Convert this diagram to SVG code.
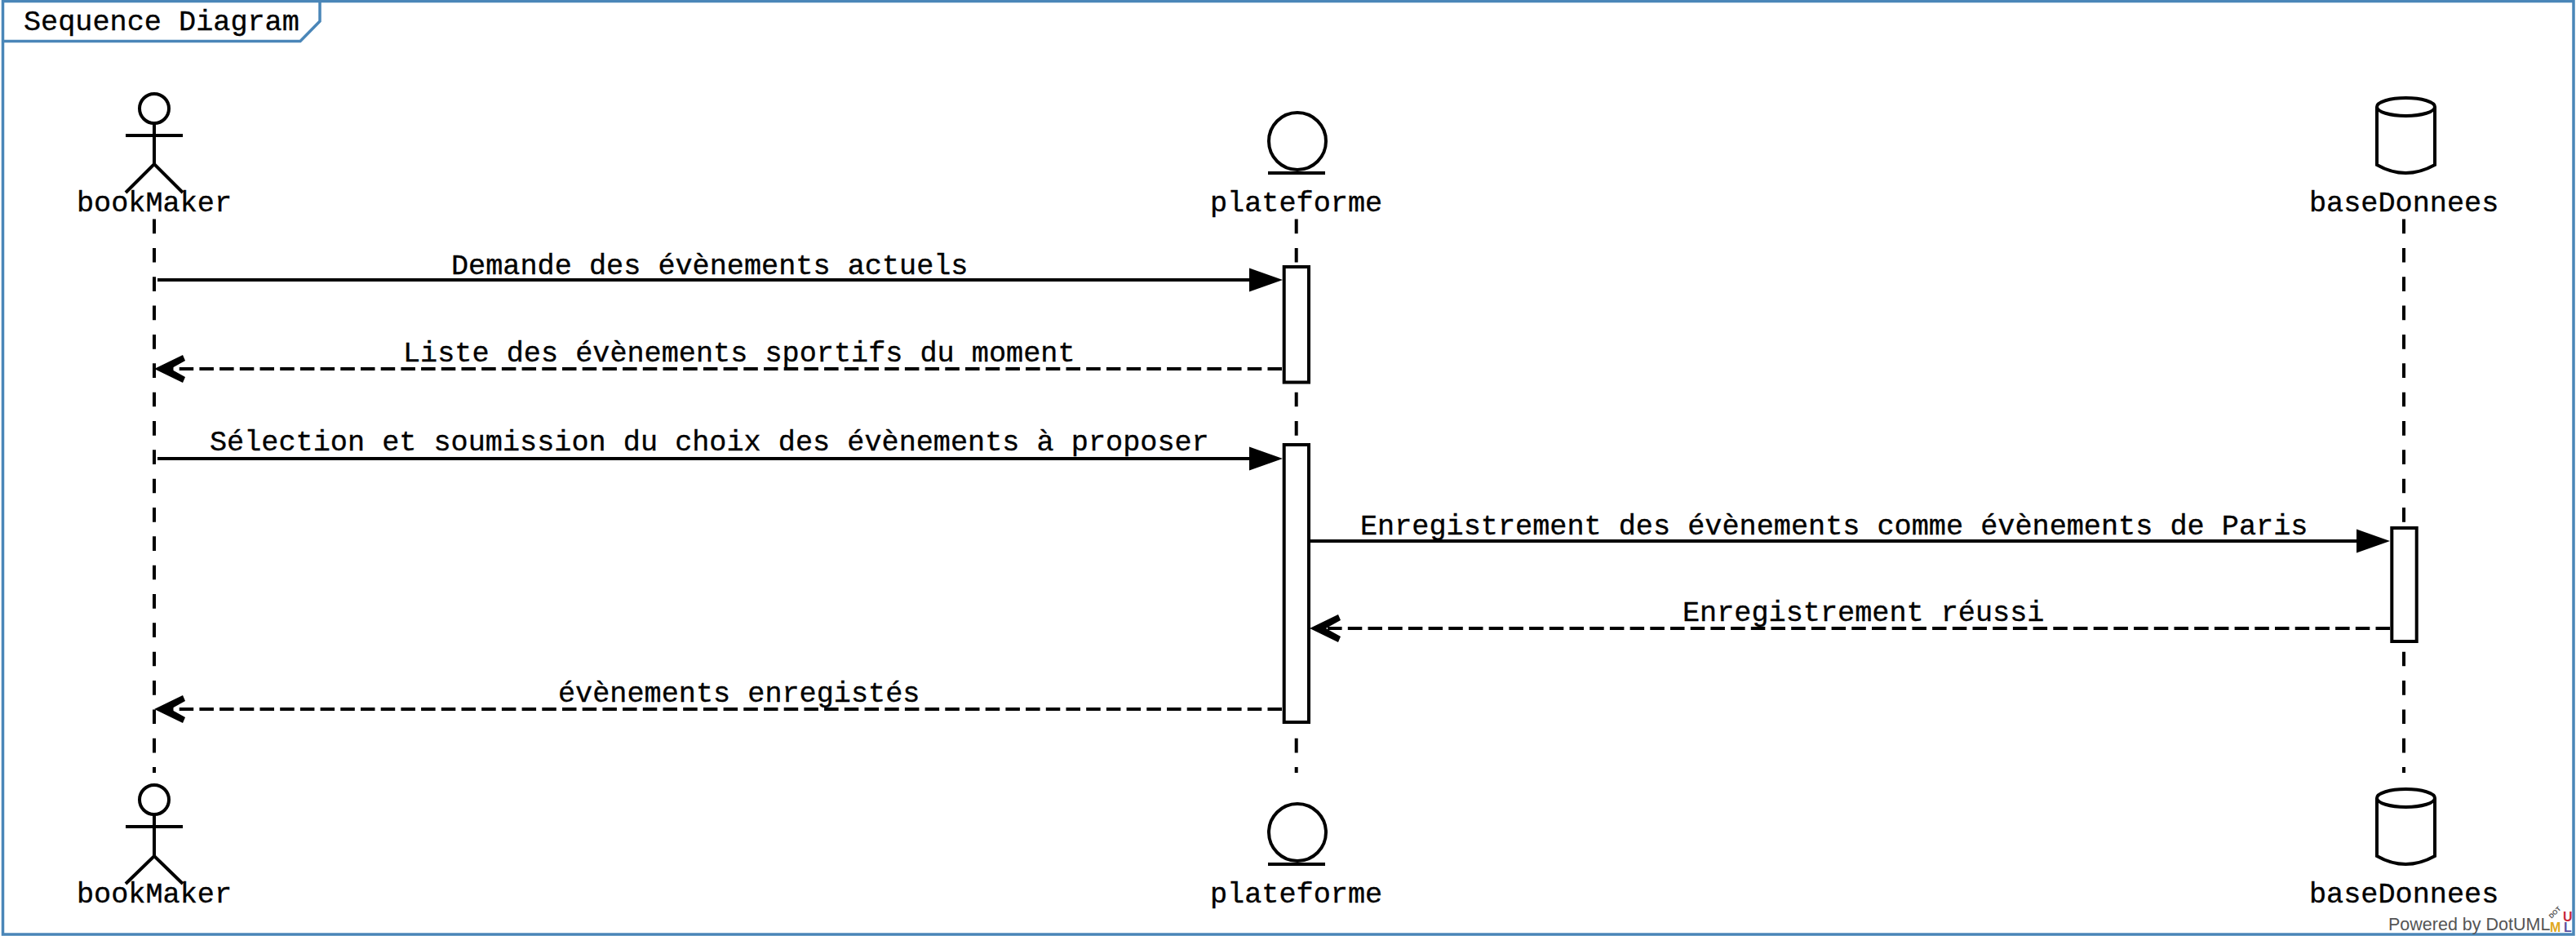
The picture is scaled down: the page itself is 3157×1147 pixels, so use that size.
<svg xmlns="http://www.w3.org/2000/svg" width="3157" height="1147" viewBox="0 0 3157 1147">
<style>
text{font-family:"Liberation Mono","Courier New",monospace;font-size:35.2px;fill:#000;stroke:#000;stroke-width:.35}
.s{fill:none;stroke:#000;stroke-width:4}
.w{fill:#fff;stroke:#000;stroke-width:4}
.life{fill:none;stroke:#000;stroke-width:4;stroke-dasharray:17.67 17.67}
.sync{fill:none;stroke:#000;stroke-width:4}
.ret{fill:none;stroke:#000;stroke-width:4;stroke-dasharray:17.5 7.2}
.frame{fill:none;stroke:#4a86b8;stroke-width:3.5}
text.b{font-family:"Liberation Sans",Arial,sans-serif;font-size:16px;font-weight:bold;stroke:none}
</style>
<defs>
<path id="open" d="M0 0L35 -17L38 -10L20 0L38 10L35 17Z"/>
<path id="fill" d="M0 0L-41 -14.500V14.500Z"/>
</defs>
<rect width="3157" height="1147" fill="#fff"/>
<g id="frame">
<rect class="frame" x="3.500" y="1.500" width="3150.500" height="1143.500"/>
<path class="frame" d="M3.500 50.500H368L392 26V1.500"/>
<text x="29" y="37">Sequence Diagram</text>
</g>
<g id="lifelines">
<path class="life" d="M189 268.600V947"/>
<path class="life" d="M1588.700 268.600V947"/>
<path class="life" d="M2946 268.600V947"/>
</g>
<g id="activations">
<rect class="w" x="1573.700" y="327" width="30.300" height="141.500"/>
<rect class="w" x="1573.700" y="545" width="30.300" height="340"/>
<rect class="w" x="2931.300" y="647" width="30.400" height="139"/>
</g>
<g id="connectors">
<path class="sync" d="M193 343H1535"/><use href="#fill" x="1572" y="343"/>
<path class="ret" d="M1571 452H205"/><use href="#open" x="189" y="452"/>
<path class="sync" d="M193 562H1535"/><use href="#fill" x="1572" y="562"/>
<path class="sync" d="M1606 663H2892"/><use href="#fill" x="2929" y="663"/>
<path class="ret" d="M2929 770H1622"/><use href="#open" x="1605" y="770"/>
<path class="ret" d="M1571 869H205"/><use href="#open" x="189" y="869"/>
</g>
<g id="labels">
<text x="553" y="336">Demande des évènements actuels</text>
<text x="494" y="443">Liste des évènements sportifs du moment</text>
<text x="257" y="552">Sélection et soumission du choix des évènements à proposer</text>
<text x="1667" y="655">Enregistrement des évènements comme évènements de Paris</text>
<text x="2062" y="761">Enregistrement réussi</text>
<text x="684" y="860">évènements enregistés</text>
</g>
<g id="bookMaker-top">
<circle class="s" cx="189" cy="133" r="18"/>
<path class="s" d="M189 152V201M154 166H224M154 236L189 201L224 236"/>
<text x="94" y="258.500">bookMaker</text>
</g>
<g id="plateforme-top">
<circle class="s" cx="1590" cy="173" r="35"/>
<path class="s" d="M1554 212H1624"/>
<text x="1483" y="258.500">plateforme</text>
</g>
<g id="baseDonnees-top">
<path class="s" d="M2913 131V202Q2948 222 2984 202V131"/>
<ellipse class="s" cx="2948.500" cy="131" rx="35.500" ry="11"/>
<text x="2830" y="258.500">baseDonnees</text>
</g>
<g id="bookMaker-bottom">
<circle class="s" cx="189" cy="980" r="18"/>
<path class="s" d="M189 999V1049M154 1013H224M154 1083L189 1049L224 1083"/>
<text x="94" y="1105.500">bookMaker</text>
</g>
<g id="plateforme-bottom">
<circle class="s" cx="1590" cy="1020" r="35"/>
<path class="s" d="M1554 1059H1624"/>
<text x="1483" y="1105.500">plateforme</text>
</g>
<g id="baseDonnees-bottom">
<path class="s" d="M2913 978V1049Q2948 1069 2984 1049V978"/>
<ellipse class="s" cx="2948.500" cy="978" rx="35.500" ry="11"/>
<text x="2830" y="1105.500">baseDonnees</text>
</g>
<g id="branding">
<text class="b" x="2927" y="1140" style="font-size:21.500px;font-weight:normal;fill:#555">Powered by DotUML</text>
<text class="b" x="3125" y="1142" style="fill:#e0a820">M</text>
<text class="b" x="3141" y="1129" style="fill:#c8283c">U</text>
<text class="b" x="3142" y="1142" style="fill:#5a50a0">L</text>
<text class="b" transform="translate(3127 1126) rotate(-45)" style="font-size:8px;fill:#555">DOT</text>
</g>
</svg>
